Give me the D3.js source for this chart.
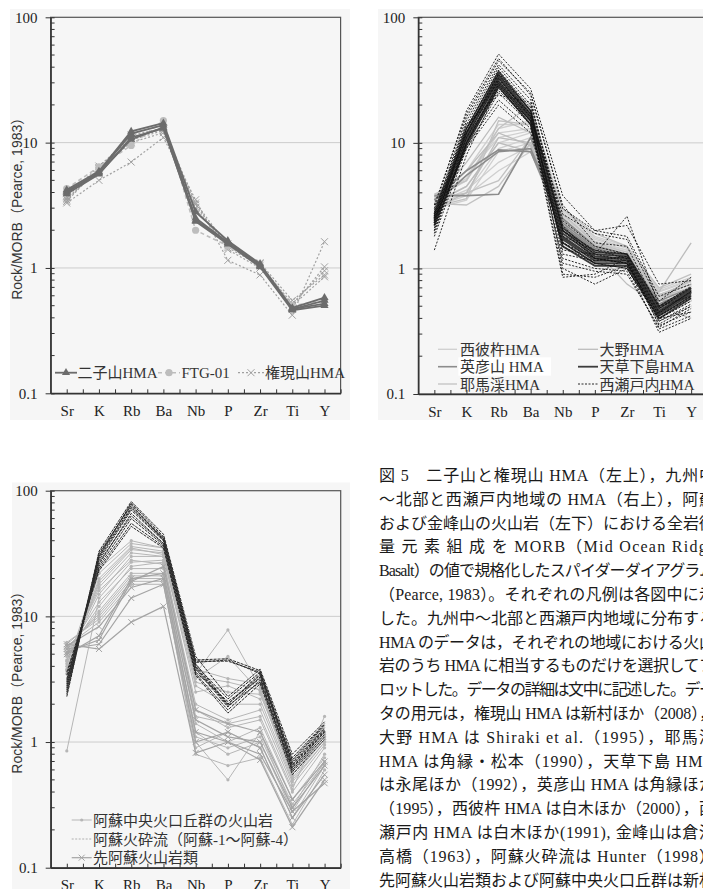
<!DOCTYPE html>
<html>
<head>
<meta charset="utf-8">
<script src="https://cdn.jsdelivr.net/npm/d3@7"></script>
<style>
  body { margin: 0; background: #fff; }
  svg { display: block; }
</style>
</head>
<body>
<svg width="703" height="889"></svg>
<script>
// Spider diagrams, Rock/MORB (Pearce 1983), three panels + caption

var elements = ["Sr", "K", "Rb", "Ba", "Nb", "P", "Zr", "Ti", "Y"];
var yLabels = [0.1, 1, 10, 100];

// --- panel 1 (top left)
var futagoyama = [
  [4.2, 5.9, 12.3, 14.3, 2.8, 1.65, 1.08, 0.48, 0.58],
  [4.0, 5.8, 11.8, 13.8, 2.5, 1.6, 1.05, 0.47, 0.55],
  [4.1, 5.7, 10.6, 13.2, 2.35, 1.55, 1.02, 0.46, 0.50],
  [3.9, 5.6, 11.0, 13.0, 2.4, 1.6, 1.04, 0.47, 0.52]
];
var ftg01 = [
  [4.3, 6.4, 9.5, 15.0, 2.0, 1.5, 1.05, 0.5, 0.55]
];
var gongenyama = [
  [3.3, 5.0, 7.0, 11.0, 3.5, 1.15, 0.88, 0.42, 1.62],
  [3.5, 6.2, 10.0, 12.0, 3.2, 1.4, 1.0, 0.5, 1.02],
  [3.6, 6.0, 10.5, 12.5, 3.0, 1.45, 1.05, 0.52, 0.95],
  [3.4, 6.3, 11.5, 13.0, 3.3, 1.5, 1.1, 0.55, 0.88],
  [3.7, 6.5, 10.8, 12.8, 2.9, 1.55, 1.08, 0.5, 0.85]
];

// --- panel 2 (top right)
var nishisonogi = [
  [3.4, 4.5, 10, 12, 2.6, 1.6, 1.4, 0.6, 0.75],
  [3.6, 5, 12, 13, 2.8, 1.7, 1.45, 0.65, 0.8],
  [3.2, 4, 9, 11, 2.4, 1.5, 1.3, 0.58, 0.7],
  [3.8, 6, 14, 14, 2.9, 1.8, 1.5, 0.68, 0.85],
  [3.0, 3.5, 8.5, 10, 2.2, 1.45, 1.2, 0.55, 0.72],
  [3.5, 5.5, 11, 12.5, 2.7, 1.65, 1.4, 0.62, 0.78],
  [3.3, 4.2, 7, 9.5, 2.5, 1.55, 1.35, 0.6, 0.74],
  [3.7, 5.2, 13, 15, 3.0, 1.75, 1.45, 0.66, 0.82],
  [3.1, 3.8, 6, 8.5, 2.3, 1.5, 1.25, 0.57, 0.7]
];
var yabakei = [
  [3.3, 3.2, 4.5, 10, 2.3, 1.5, 1.2, 0.6, 0.7],
  [3.6, 4, 5, 11, 2.5, 1.55, 1.3, 0.6, 0.8],
  [3.1, 3.6, 15, 14, 3.0, 1.9, 1.5, 0.7, 0.9],
  [3.9, 5, 13, 20, 2.7, 1.6, 1.35, 0.62, 0.75]
];
var ono = [
  [3.5, 7, 16, 12, 2.4, 1.4, 1.0, 0.65, 1.6],
  [3.3, 4.5, 10, 8.5, 2.0, 1.3, 1.0, 0.55, 0.6],
  [3.7, 6, 12, 9.5, 2.2, 1.4, 0.75, 0.5, 0.4],
  [3.0, 4, 11, 10, 2.1, 1.35, 1.1, 0.6, 0.65]
];
var hikosan = [
  [3.8, 3.8, 3.9, 11, 2.5, 1.5, 1.3, 0.5, 0.65],
  [3.5, 6, 8.8, 8.5, 2.2, 1.4, 1.2, 0.55, 0.7],
  [3.2, 5.5, 8.5, 9, 2.3, 1.45, 1.25, 0.52, 0.68]
];
var amakusa = [
  [2.5, 11, 33, 16, 1.8, 1.2, 1.2, 0.45, 0.65],
  [2.3, 10, 30, 15, 1.6, 1.1, 1.1, 0.42, 0.60],
  [2.6, 12, 35, 17, 2.0, 1.3, 1.25, 0.48, 0.68],
  [2.4, 11.5, 31, 15.5, 1.7, 1.15, 1.15, 0.44, 0.62],
  [2.2, 9.5, 28, 14, 1.5, 1.05, 1.05, 0.40, 0.58],
  [2.7, 13, 37, 18, 2.1, 1.35, 1.3, 0.50, 0.70],
  [2.5, 10.5, 29, 15, 1.75, 1.2, 1.2, 0.43, 0.64],
  [2.3, 12, 34, 16.5, 1.9, 1.25, 1.2, 0.46, 0.66]
];
var nishiSetouchi = [
  [2.4, 12, 35, 18, 2.0, 1.2, 1.1, 0.40, 0.55],
  [2.6, 14, 40, 20, 2.4, 1.5, 1.3, 0.45, 0.65],
  [2.2, 10, 30, 16, 1.6, 1.1, 1.0, 0.38, 0.50],
  [1.4, 8, 28, 14, 0.85, 0.9, 1.2, 0.35, 0.45],
  [3.0, 18, 51, 27, 3.8, 2.0, 2.2, 0.75, 0.80],
  [2.8, 16, 45, 25, 3.0, 2.0, 1.8, 0.60, 0.75],
  [2.0, 11, 32, 17, 1.4, 1.3, 2.6, 0.50, 0.60],
  [2.5, 13, 38, 19, 1.0, 0.75, 1.0, 0.40, 0.55],
  [1.8, 9, 25, 14, 1.2, 1.0, 0.95, 0.33, 0.42],
  [2.3, 12, 33, 16, 2.7, 1.9, 1.7, 0.55, 0.85],
  [2.1, 10, 29, 15, 1.8, 1.4, 1.2, 0.42, 0.60],
  [2.7, 15, 42, 22, 2.2, 1.2, 1.1, 0.36, 0.50],
  [2.4, 11, 27, 15, 0.9, 0.85, 1.05, 0.31, 0.40],
  [3.2, 17, 47, 24, 3.2, 1.6, 1.5, 0.48, 0.70],
  [2.0, 9.5, 22, 13, 1.5, 1.1, 1.0, 0.40, 0.45],
  [2.6, 12, 36, 18, 1.3, 1.15, 1.25, 0.44, 0.66],
  [2.2, 13, 31, 17, 2.0, 1.3, 1.15, 0.38, 0.52],
  [1.9, 10, 26, 15, 1.1, 0.95, 0.9, 0.34, 0.48],
  [2.5, 9, 20, 12, 1.6, 1.2, 1.1, 0.42, 0.58],
  [2.9, 14, 24, 21, 2.0, 1.4, 1.3, 0.50, 0.72]
];

// --- panel 3 (bottom left)
var asoCentral = [
  [4.5, 15, 30, 30, 2.5, 2.8, 2.2, 0.50, 1.00],
  [5.0, 12, 25, 27, 2.0, 1.5, 1.8, 0.45, 0.95],
  [3.8, 20, 36, 33, 3.5, 7.8, 2.7, 0.55, 1.10],
  [4.2, 18, 34, 32, 3.2, 4.8, 2.5, 0.52, 1.05],
  [6.0, 10, 20, 20, 1.0, 0.5, 1.2, 0.30, 0.80],
  [5.5, 11, 22, 22, 1.2, 0.8, 1.0, 0.28, 0.70],
  [0.85, 14, 27, 28, 1.8, 1.3, 1.5, 0.40, 0.90],
  [3.5, 22, 38, 35, 3.8, 3.2, 2.9, 0.60, 1.20],
  [5.8, 9, 18, 18, 0.9, 1.2, 0.9, 0.25, 0.65],
  [4.8, 16, 28, 26, 1.6, 1.4, 1.6, 0.42, 1.60],
  [4.0, 24, 40, 35, 3.0, 2.5, 2.4, 0.58, 1.15],
  [5.2, 13, 24, 24, 1.4, 1.0, 1.3, 0.35, 0.75],
  [6.2, 9.5, 19, 19, 0.8, 0.65, 0.75, 0.22, 0.60],
  [4.4, 17, 32, 30, 2.8, 2.0, 2.0, 0.48, 1.00],
  [3.7, 19, 35, 31, 3.3, 3.0, 2.6, 0.55, 1.10],
  [5.6, 10.5, 21, 21, 1.1, 0.9, 1.1, 0.32, 0.68]
];
var asoFlow = [
  [2.4, 30, 80, 43, 4.5, 4.6, 3.7, 0.70, 1.35],
  [2.6, 32, 76, 42, 4.4, 4.4, 3.6, 0.68, 1.30],
  [3.0, 28, 70, 40, 4.0, 2.0, 3.5, 0.65, 1.25],
  [2.8, 26, 66, 38, 3.8, 1.9, 3.3, 0.62, 1.20],
  [3.2, 25, 60, 37, 3.6, 2.1, 3.2, 0.60, 1.15],
  [2.3, 33, 82, 45, 4.8, 2.3, 3.8, 0.80, 1.45],
  [3.4, 24, 55, 36, 3.5, 1.8, 3.1, 0.58, 1.10],
  [2.9, 29, 72, 41, 4.2, 2.0, 3.4, 0.72, 1.38],
  [2.5, 31, 78, 40, 4.3, 4.5, 3.5, 0.66, 1.28],
  [3.1, 27, 63, 38, 3.9, 1.95, 3.0, 0.63, 1.22],
  [3.6, 23, 52, 35, 3.4, 1.7, 2.9, 0.55, 1.05],
  [2.7, 30, 74, 42, 4.1, 2.2, 3.6, 0.75, 1.40]
];
var preAso = [
  [6.0, 5.5, 9, 12, 0.82, 1.0, 0.72, 0.21, 0.50],
  [5.5, 6, 14, 18, 1.0, 1.2, 0.9, 0.25, 0.55],
  [5.0, 7, 20, 22, 1.5, 1.1, 1.0, 0.30, 0.65],
  [5.8, 8.3, 17, 20, 1.2, 1.0, 0.8, 0.28, 0.47],
  [5.2, 6.5, 19, 25, 1.8, 1.4, 1.2, 0.35, 0.70]
];

var caption = [
  "図 5　二子山と権現山 HMA（左上），九州中",
  "〜北部と西瀬戸内地域の HMA（右上），阿蘇",
  "および金峰山の火山岩（左下）における全岩微",
  "量 元 素 組 成 を MORB（Mid Ocean Ridge",
  "Basalt）の値で規格化したスパイダーダイアグラム",
  "（Pearce, 1983）。それぞれの凡例は各図中に示",
  "した。九州中〜北部と西瀬戸内地域に分布する",
  "HMA のデータは，それぞれの地域における火山",
  "岩のうち HMA に相当するものだけを選択してプ",
  "ロットした。データの詳細は文中に記述した。デー",
  "タの用元は，権現山 HMA は新村ほか（2008），",
  "大野 HMA は Shiraki et al.（1995），耶馬渓",
  "HMA は角縁・松本（1990），天草下島 HMA",
  "は永尾ほか（1992），英彦山 HMA は角縁ほか",
  "（1995），西彼杵 HMA は白木ほか（2000），西",
  "瀬戸内 HMA は白木ほか(1991), 金峰山は倉沢",
  "高橋（1963），阿蘇火砕流は Hunter（1998）",
  "先阿蘇火山岩類および阿蘇中央火口丘群は新村"
];
// visible width of each caption line up to the page edge (column runs past it)
var captionWidth = [336, 336, 336, 336, 336, 336, 336, 336, 336, 336, 336, 336, 336, 336, 336, 336, 336, 336];

var svg = d3.select("svg");
var font = '"Liberation Serif", "Noto Sans CJK JP", serif';

function marker(g, type, cx, cy, color, size) {
  if (type === "tri") {
    g.append("path").attr("d", d3.symbol(d3.symbolTriangle, size * size * 0.8)())
      .attr("transform", "translate(" + cx + "," + cy + ")").attr("fill", color);
  } else if (type === "dot") {
    g.append("circle").attr("cx", cx).attr("cy", cy).attr("r", size).attr("fill", color);
  } else if (type === "x") {
    g.append("path")
      .attr("d", "M" + (cx - size) + "," + (cy - size) + "L" + (cx + size) + "," + (cy + size) +
                 "M" + (cx - size) + "," + (cy + size) + "L" + (cx + size) + "," + (cy - size))
      .attr("stroke", color).attr("stroke-width", 1).attr("fill", "none");
  }
}

function drawPanel(p) {
  svg.append("rect").attr("x", p.bg[0]).attr("y", p.bg[1]).attr("width", p.bg[2]).attr("height", p.bg[3])
    .attr("fill", "#f6f6f6");

  var x = d3.scaleLinear().domain([-0.5, 8.5]).range([p.left, p.right]);
  var y = d3.scaleLog().domain([0.1, 100]).range([p.bottom, p.top]);
  var g = svg.append("g");

  // grid lines at 1 and 10
  g.selectAll(".grid").data([1, 10]).enter().append("line")
    .attr("x1", p.left).attr("x2", p.right)
    .attr("y1", function(d) { return y(d); }).attr("y2", function(d) { return y(d); })
    .attr("stroke", "#cccccc").attr("stroke-width", 1);

  // frame
  g.append("rect").attr("x", p.left).attr("y", p.top)
    .attr("width", p.right - p.left).attr("height", p.bottom - p.top)
    .attr("fill", "none").attr("stroke", "#555").attr("stroke-width", 1.2);

  // series
  var line = d3.line().x(function(d, i) { return x(i); }).y(function(d) { return y(d); });
  p.series.forEach(function(s) {
    s.data.forEach(function(row) {
      g.append("path").attr("d", line(row)).attr("fill", "none")
        .attr("stroke", s.color).attr("stroke-width", s.width)
        .attr("stroke-dasharray", s.dash || null);
      if (s.marker) {
        row.forEach(function(v, i) { marker(g, s.marker, x(i), y(v), s.mcolor || s.color, s.msize); });
      }
    });
  });

  // y axis
  var minor = [];
  [0.1, 1, 10].forEach(function(b) { for (var k = 2; k <= 9; k++) minor.push(b * k); });
  g.selectAll(".minor").data(minor).enter().append("line")
    .attr("x1", p.left).attr("x2", p.left + 4)
    .attr("y1", function(d) { return y(d); }).attr("y2", function(d) { return y(d); })
    .attr("stroke", "#333").attr("stroke-width", 1);
  var yAxis = g.append("g").attr("transform", "translate(" + p.left + ",0)")
    .call(d3.axisLeft(y).tickValues(yLabels).tickFormat(function(d) { return d; })
      .tickSizeInner(5).tickSizeOuter(0).tickPadding(8));
  yAxis.select(".domain").attr("stroke", "#333").attr("stroke-width", 1.5);
  yAxis.selectAll(".tick line").attr("stroke", "#333").attr("x2", -5);
  yAxis.selectAll(".tick").append("line").attr("x1", 0).attr("x2", 4).attr("stroke", "#333");
  yAxis.selectAll("text").attr("font-family", font).attr("font-size", 15).attr("fill", "#222");

  // x axis
  var xt = d3.range(0, 9, 0.5);
  var xAxis = g.append("g").attr("transform", "translate(0," + p.bottom + ")")
    .call(d3.axisBottom(x).tickValues(xt)
      .tickFormat(function(d) { return d % 1 === 0 ? elements[d] : ""; })
      .tickSizeInner(-4).tickSizeOuter(0).tickPadding(12));
  xAxis.select(".domain").attr("stroke", "#333").attr("stroke-width", 1.5);
  xAxis.selectAll(".tick line").attr("stroke", "#333");
  xAxis.selectAll("text").attr("font-family", font).attr("font-size", 15).attr("fill", "#222");

  if (p.title) {
    g.append("text")
      .attr("transform", "translate(" + p.titleX + "," + ((p.top + p.bottom) / 2) + ") rotate(-90)")
      .attr("text-anchor", "middle").attr("dominant-baseline", "central")
      .attr("font-family", '"Liberation Sans", "Noto Sans CJK JP", sans-serif')
      .attr("font-size", 14).attr("fill", "#333")
      .text("Rock/MORB（Pearce, 1983）");
  }

  // legend
  p.legend.forEach(function(l) {
    if (l.box) {
      g.append("rect").attr("x", l.box[0]).attr("y", l.box[1]).attr("width", l.box[2]).attr("height", l.box[3])
        .attr("fill", "#fff");
    }
    g.append("line").attr("x1", l.x1).attr("x2", l.x2).attr("y1", l.y).attr("y2", l.y)
      .attr("stroke", l.s.color).attr("stroke-width", l.s.width)
      .attr("stroke-dasharray", l.s.dash || null);
    if (l.s.marker) marker(g, l.s.marker, (l.x1 + l.x2) / 2, l.y, l.s.mcolor || l.s.color, l.s.msize);
    g.append("text").attr("x", l.tx).attr("y", l.y + 5.5)
      .attr("font-family", font).attr("font-size", 15).attr("fill", "#333")
      .text(l.text);
  });
}

// series styles
var sFuta = { data: futagoyama, color: "#6c6c6c", width: 1.8, marker: "tri", msize: 6 };
var sFtg = { data: ftg01, color: "#bdbdbd", width: 1.6, dash: "4,3", marker: "dot", msize: 3.6 };
var sGon = { data: gongenyama, color: "#a0a0a0", width: 1.2, dash: "2,2", marker: "x", msize: 3.5 };

drawPanel({
  bg: [10, 9, 340, 411], left: 50.6, right: 340.6, top: 17.3, bottom: 393.3, title: true, titleX: 17,
  series: [sGon, sFtg, sFuta],
  legend: [
    { s: sFuta, x1: 55, x2: 77, y: 372.7, tx: 77.5, text: "二子山HMA" },
    { s: sFtg, x1: 158, x2: 180, y: 372.7, tx: 181.5, text: "FTG-01" },
    { s: sGon, x1: 238, x2: 264, y: 372.7, tx: 265, text: "権現山HMA" }
  ]
});

var sNishi = { data: nishisonogi, color: "#cfcfcf", width: 1.3 };
var sYaba = { data: yabakei, color: "#c2c2c2", width: 1.3 };
var sOno = { data: ono, color: "#bcbcbc", width: 1.3 };
var sHiko = { data: hikosan, color: "#8c8c8c", width: 1.6 };
var sAma = { data: amakusa, color: "#3c3c3c", width: 1.8 };
var sSeto = { data: nishiSetouchi, color: "#111", width: 0.9, dash: "2,1.5" };

drawPanel({
  bg: [378, 9, 330, 411], left: 418.3, right: 707.2, top: 17.3, bottom: 394, title: false,
  series: [sNishi, sYaba, sOno, sHiko, sAma, sSeto],
  legend: [
    { s: sNishi, x1: 438, x2: 457, y: 349.3, tx: 460, text: "西彼杵HMA" },
    { s: sHiko, x1: 438, x2: 457, y: 366.7, tx: 460, text: "英彦山 HMA", box: [458.3, 357.3, 92.7, 18.4] },
    { s: sYaba, x1: 438, x2: 457, y: 384, tx: 460, text: "耶馬渓HMA" },
    { s: sOno, x1: 578, x2: 598, y: 349.3, tx: 599.5, text: "大野HMA" },
    { s: sAma, x1: 578, x2: 598, y: 366.7, tx: 599.5, text: "天草下島HMA" },
    { s: sSeto, x1: 578, x2: 598, y: 384, tx: 599.5, text: "西瀬戸内HMA" }
  ]
});

var sCentral = { data: asoCentral, color: "#b6b6b6", width: 1, marker: "dot", msize: 1.6 };
var sFlow = { data: asoFlow, color: "#2a2a2a", width: 1, dash: "3,1" };
var sPre = { data: preAso, color: "#a4a4a4", width: 1.2, marker: "x", msize: 3 };

drawPanel({
  bg: [12, 482.5, 338, 410], left: 50.7, right: 340.7, top: 490.7, bottom: 867.7, title: true, titleX: 17,
  series: [sCentral, sPre, sFlow],
  legend: [
    { s: sCentral, x1: 71.7, x2: 91.7, y: 820, tx: 93, text: "阿蘇中央火口丘群の火山岩" },
    { s: { color: "#b0b0b0", width: 1, dash: "2,1.5" }, x1: 71.7, x2: 91.7, y: 839, tx: 93, text: "阿蘇火砕流（阿蘇-1〜阿蘇-4）" },
    { s: sPre, x1: 71.7, x2: 91.7, y: 857.7, tx: 93, text: "先阿蘇火山岩類" }
  ]
});

// caption, justified to the column width
svg.append("g").selectAll("text").data(caption).enter().append("text")
  .attr("x", 379).attr("y", function(d, i) { return 481 + i * 23.8; })
  .attr("textLength", function(d, i) { return captionWidth[i]; })
  .attr("lengthAdjust", "spacing")
  .attr("font-family", font).attr("font-size", 16).attr("fill", "#1a1a1a")
  .text(function(d) { return d; });
</script>
</body>
</html>
